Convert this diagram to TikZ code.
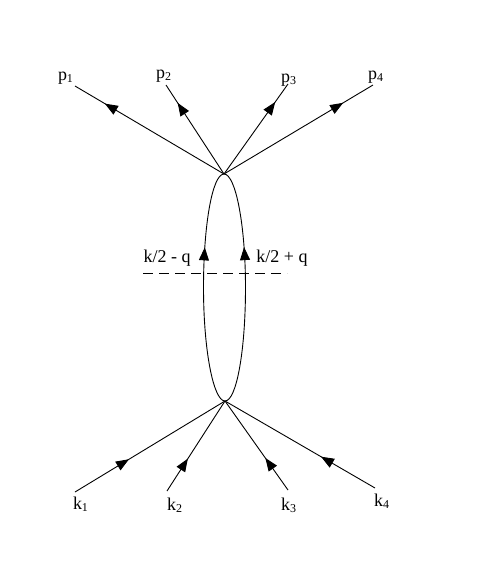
\documentclass[tikz,border=0pt]{standalone}
\usepackage{fontspec}
\setmainfont{Liberation Serif}
\usetikzlibrary{arrows.meta,decorations.markings}

\tikzset{
  midarrow/.style={postaction={decorate,decoration={markings,mark=at position #1 with {\arrow{>}}}}},
  leg/.style={line width=0.45pt},
  lbl/.style={font=\fontsize{9}{11}\selectfont,inner sep=1pt}
}

\begin{document}
\begin{tikzpicture}[x=0.5pt,y=-0.5pt,>={Triangle[length=6.5pt,width=5pt]}]
\useasboundingbox (0,0) rectangle (485,579);
% the two vertices
\coordinate (top) at (224,174);
\coordinate (bot) at (225,401);
% outgoing legs
\coordinate (e1) at (75,86);
\coordinate (e2) at (166,85);
\coordinate (e3) at (288,84);
\coordinate (e4) at (373,85);
\node[lbl] (p1) at (66,78) {p\textsubscript{1}};
\node[lbl] (p2) at (164,76) {p\textsubscript{2}};
\node[lbl] (p3) at (289,80) {p\textsubscript{3}};
\node[lbl] (p4) at (376,77) {p\textsubscript{4}};
\foreach \i in {1,...,4}
  \draw[leg,midarrow=0.8] (top) -- (e\i);
% incoming legs
\coordinate (b1) at (75,492);
\coordinate (b2) at (167,491);
\coordinate (b3) at (288,490);
\coordinate (b4) at (375,488);
\node[lbl] (k1) at (81,504) {k\textsubscript{1}};
\node[lbl] (k2) at (175,505) {k\textsubscript{2}};
\node[lbl] (k3) at (289,505) {k\textsubscript{3}};
\node[lbl] (k4) at (382,501) {k\textsubscript{4}};
\foreach \i in {1,...,4}
  \draw[leg,midarrow=0.36] (b\i) -- (bot);
% the loop
\draw[leg,midarrow=0.67] (bot) .. controls +(-11.6,0) and +(0,62.7) .. (203.5,287.5)
  .. controls +(0,-62.7) and +(-11.6,0) .. (top);
\draw[leg,midarrow=0.67] (bot) .. controls +(11.6,0) and +(0,62.7) .. (245.5,287.5)
  .. controls +(0,-62.7) and +(11.6,0) .. (top);
\node[lbl] (ql) at (167,258) {k/2 - q};
\node[lbl] (qr) at (282,258) {k/2 + q};
% the cut
\coordinate (c1) at (143,273);
\coordinate (c2) at (287,273);
\draw[leg,dash pattern=on 5pt off 3pt] (c1) -- (c2);
\end{tikzpicture}
\end{document}
